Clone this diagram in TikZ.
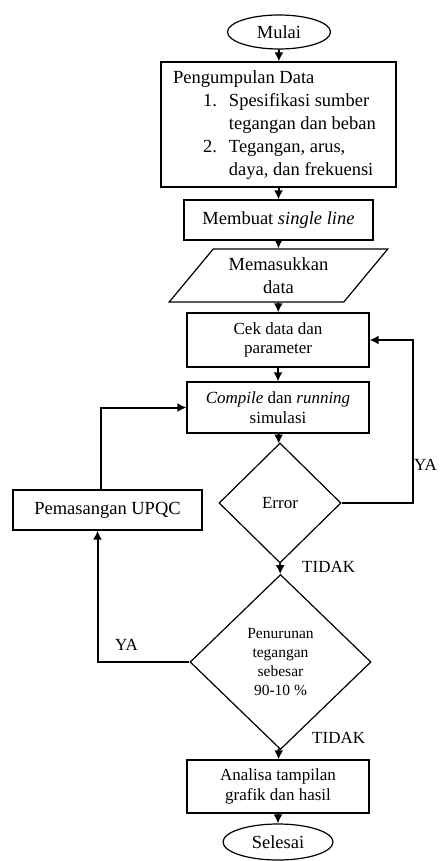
\documentclass[tikz,border=0pt]{standalone}
\usepackage{fontspec}
\setmainfont{Liberation Serif}
\usetikzlibrary{shapes,arrows.meta,positioning}

\newcommand{\hurufbesar}{\fontsize{18.5}{23}\selectfont}
\newcommand{\hurufsedang}{\fontsize{17}{19.5}\selectfont}
\newcommand{\hurufkecil}{\fontsize{15.5}{19}\selectfont}

\begin{document}
\begin{tikzpicture}
  [x=1pt,y=-1pt,
  kotak/.style={rectangle,draw=black,line width=1.2pt,align=center,inner sep=2pt},
  terminal/.style={ellipse,draw=black,line width=1.2pt,inner sep=0pt,font=\hurufbesar},
  datamasuk/.style={trapezium,trapezium left angle=47,trapezium right angle=133,trapezium stretches=true,draw=black,line width=1.2pt,align=center,inner sep=0pt,font=\hurufbesar},
  keputusan/.style={diamond,draw=black,line width=1.2pt,align=center,inner sep=0pt},
  panah/.style={-{Latex[length=9pt,width=9pt]},line width=2pt},
  ket/.style={anchor=west,inner sep=0pt,font=\hurufsedang}]
  \useasboundingbox (0,0) rectangle (439,861);

  \node[terminal,minimum width=103pt,minimum height=34pt] (mulai) at (279,32) {Mulai};
  \node[kotak,minimum width=235pt,minimum height=125pt,font=\hurufbesar] (kumpul) at (278.5,124.5)
    {\begin{tabular}{@{\hspace{30pt}}l@{\hspace{12pt}}l@{\hspace{8pt}}}
      \multicolumn{2}{@{}l@{}}{Pengumpulan Data}\\
      1. & Spesifikasi sumber\\
         & tegangan dan beban\\
      2. & Tegangan, arus,\\
         & daya, dan frekuensi
    \end{tabular}};
  \node[kotak,minimum width=189pt,minimum height=40pt,font=\hurufbesar] (membuat) at (278.5,220) {Membuat \textit{single line}};
  \node[datamasuk,minimum width=219pt,minimum height=53pt] (masuk) at (278.5,275.5) {Memasukkan\\data};
  \node[kotak,minimum width=182pt,minimum height=54pt,font=\hurufsedang] (cek) at (278,340) {Cek data dan\\parameter};
  \node[kotak,minimum width=182pt,minimum height=51pt,font=\hurufsedang] (compile) at (278,407.5) {\textit{Compile} dan \textit{running}\\simulasi};
  \node[keputusan,minimum width=122pt,minimum height=120pt,font=\hurufsedang] (error) at (280,503) {Error};
  \node[keputusan,minimum width=181pt,minimum height=175pt,font=\hurufkecil] (turun) at (280.5,662) {Penurunan\\tegangan\\sebesar\\90-10 \%};
  \node[kotak,minimum width=189pt,minimum height=40pt,font=\hurufbesar] (pasang) at (107.5,510) {Pemasangan UPQC};
  \node[kotak,minimum width=182pt,minimum height=53pt,font=\hurufsedang] (analisa) at (278,786.5) {Analisa tampilan\\grafik dan hasil};
  \node[terminal,minimum width=110pt,minimum height=36pt] (selesai) at (278,842) {Selesai};

  \coordinate (balik) at (413,503);

  \draw[panah] (mulai) -- (kumpul);
  \draw[panah] (kumpul) -- (membuat);
  \draw[panah] (membuat) -- (masuk);
  \draw[panah] (masuk) -- (cek);
  \draw[panah] (cek) -- (compile);
  \draw[panah] (compile) -- (error);
  \draw[panah] (error.east) -- (balik) |- (cek.east);
  \draw[panah] (error) -- (turun);
  \draw[panah] (turun.west) -| ([xshift=-10pt]pasang.south);
  \draw[panah] ([xshift=-7pt]pasang.north) |- (compile.west);
  \draw[panah] (turun) -- (analisa);
  \draw[panah] (analisa) -- (selesai);

  \node[ket] (ya1) at (414,465) {YA};
  \node[ket] (tidak1) at (302,567) {TIDAK};
  \node[ket] (ya2) at (115,645) {YA};
  \node[ket] (tidak2) at (312,738) {TIDAK};
\end{tikzpicture}
\end{document}
